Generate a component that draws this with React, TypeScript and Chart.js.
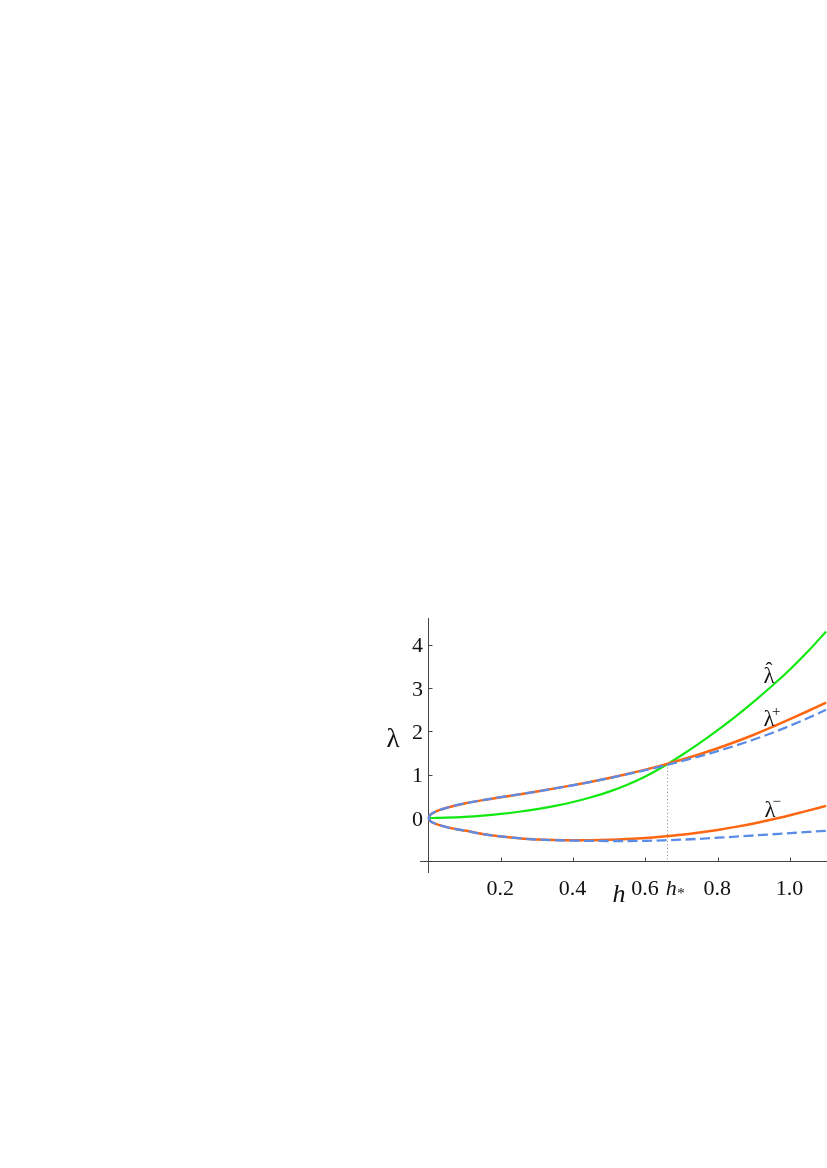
import React, { useEffect, useRef } from "react";
import { Chart, registerables } from "chart.js";

Chart.register(...registerables);

// ---- data ----
const hValues = [0, 0.005, 0.01, 0.02, 0.03, 0.05, 0.075, 0.1, 0.15, 0.2, 0.25, 0.3, 0.35, 0.4, 0.45, 0.5, 0.55, 0.6, 0.65, 0.7, 0.75, 0.8, 0.85, 0.9, 0.95, 1.0, 1.05, 1.1];
const lambdaHat = [0, 0, 0.0003, 0.001, 0.0025, 0.007, 0.015, 0.025, 0.055, 0.095, 0.145, 0.205, 0.28, 0.37, 0.48, 0.61, 0.77, 0.96, 1.19, 1.45, 1.73, 2.03, 2.35, 2.69, 3.05, 3.43, 3.85, 4.31];
const lambdaPlus = [0, 0.075, 0.106, 0.15, 0.183, 0.236, 0.29, 0.336, 0.413, 0.48, 0.545, 0.613, 0.685, 0.76, 0.84, 0.926, 1.018, 1.118, 1.228, 1.346, 1.474, 1.612, 1.762, 1.924, 2.098, 2.282, 2.472, 2.668];
const lambdaPlusApprox = [0, 0.075, 0.106, 0.15, 0.183, 0.236, 0.29, 0.336, 0.413, 0.48, 0.545, 0.612, 0.683, 0.757, 0.836, 0.921, 1.011, 1.106, 1.206, 1.312, 1.425, 1.545, 1.674, 1.813, 1.963, 2.13, 2.31, 2.5];
const lambdaMinus = [0, -0.07, -0.098, -0.137, -0.165, -0.21, -0.255, -0.29, -0.37, -0.425, -0.465, -0.495, -0.51, -0.515, -0.513, -0.503, -0.485, -0.46, -0.425, -0.385, -0.335, -0.275, -0.205, -0.125, -0.035, 0.065, 0.17, 0.28];
const lambdaMinusApprox = [0, -0.07, -0.098, -0.137, -0.165, -0.21, -0.255, -0.29, -0.37, -0.425, -0.466, -0.497, -0.513, -0.522, -0.528, -0.531, -0.531, -0.527, -0.515, -0.5, -0.48, -0.455, -0.43, -0.403, -0.376, -0.349, -0.322, -0.296];

const yTicks = [0, 1, 2, 3, 4];
const yTickLabels = ["0", "1", "2", "3", "4"];
const xTicks = [0.2, 0.4, 0.6, 0.8, 1.0];
const xTickLabels = ["0.2", "0.4", "0.6", "0.8", "1.0"];
const hStar = 0.659;
const lambdaAtHStar = 1.25;

const X_MIN = -0.0235;
const X_MAX = 1.1024;
const Y_MIN = -1.27;
const Y_MAX = 4.62;
const AXIS_Y = -1;

const GREEN = "#10E810";
const ORANGE = "#FF6611";
const BLUE = "#5B8DE8";
const AXIS = "#444444";
const SERIF = '"Liberation Serif", "Times New Roman", serif';

const pts = (ys: number[]) => hValues.map((h, i) => ({ x: h, y: ys[i] }));

const axesPlugin = {
  id: "mathAxes",
  beforeDatasetsDraw(chart: any) {
    const { ctx, chartArea } = chart;
    const xs = chart.scales.x;
    const ys = chart.scales.y;
    const x0 = Math.round(xs.getPixelForValue(0)) + 0.5;
    const yAx = Math.round(ys.getPixelForValue(AXIS_Y)) + 0.5;
    ctx.save();
    ctx.strokeStyle = AXIS;
    ctx.lineWidth = 1;
    ctx.beginPath();
    ctx.moveTo(chartArea.left, yAx);
    ctx.lineTo(chartArea.right, yAx);
    ctx.moveTo(x0, chartArea.top);
    ctx.lineTo(x0, chartArea.bottom);
    yTicks.forEach((v) => {
      const py = Math.round(ys.getPixelForValue(v)) + 0.5;
      ctx.moveTo(x0, py);
      ctx.lineTo(x0 + 4, py);
    });
    xTicks.forEach((v) => {
      const px = Math.round(xs.getPixelForValue(v)) + 0.5;
      ctx.moveTo(px, yAx);
      ctx.lineTo(px, yAx - 4);
    });
    ctx.stroke();
    // dotted guide at h*
    const hx = Math.round(xs.getPixelForValue(hStar)) + 0.5;
    ctx.strokeStyle = "#808080";
    ctx.setLineDash([1, 2.5]);
    ctx.beginPath();
    ctx.moveTo(hx, ys.getPixelForValue(lambdaAtHStar));
    ctx.lineTo(hx, yAx);
    ctx.stroke();
    ctx.restore();
  },
  afterDraw(chart: any) {
    const { ctx } = chart;
    const xs = chart.scales.x;
    const ys = chart.scales.y;
    const x0 = xs.getPixelForValue(0);
    const yAx = ys.getPixelForValue(AXIS_Y);
    ctx.save();
    ctx.fillStyle = "#111111";
    ctx.textBaseline = "alphabetic";
    // y tick labels
    ctx.font = `22px ${SERIF}`;
    ctx.textAlign = "right";
    yTicks.forEach((v, i) => {
      ctx.fillText(yTickLabels[i], x0 - 5.5, ys.getPixelForValue(v) + 7.5);
    });
    // x tick labels
    ctx.textAlign = "center";
    xTicks.forEach((v, i) => {
      ctx.fillText(xTickLabels[i], xs.getPixelForValue(v) - 0.5, yAx + 33.5);
    });
    // h* tick label
    const hx = xs.getPixelForValue(hStar);
    ctx.font = `italic 22px ${SERIF}`;
    ctx.textAlign = "left";
    ctx.fillText("h", hx - 1, yAx + 33.5);
    ctx.font = `15px ${SERIF}`;
    ctx.fillText("*", hx + 10.5, yAx + 36.5);
    // axis labels
    ctx.textAlign = "center";
    ctx.font = `27px ${SERIF}`;
    ctx.fillText("λ", x0 - 35.5, ys.getPixelForValue(2) + 15.5);
    ctx.font = `italic 26px ${SERIF}`;
    ctx.fillText("h", xs.getPixelForValue(0.527), yAx + 41);
    // curve labels
    const lx = xs.getPixelForValue(0.945);
    ctx.textAlign = "left";
    ctx.font = `23px ${SERIF}`;
    ctx.fillText("λ", lx - 6.5, ys.getPixelForValue(3.12));
    ctx.font = `21px ${SERIF}`;
    ctx.fillText("ˆ", lx - 4.5, ys.getPixelForValue(3.12) - 6);
    ctx.font = `23px ${SERIF}`;
    ctx.fillText("λ", lx - 6.5, ys.getPixelForValue(2.11) - 0.5);
    ctx.font = `15px ${SERIF}`;
    ctx.fillText("+", lx + 2, ys.getPixelForValue(2.11) - 11);
    ctx.font = `23px ${SERIF}`;
    ctx.fillText("λ", lx - 5.5, ys.getPixelForValue(0.02));
    ctx.font = `15px ${SERIF}`;
    ctx.fillText("−", lx + 2.5, ys.getPixelForValue(0.02) - 11.5);
    ctx.restore();
  },
};

export default function App() {
  const canvasRef = useRef<HTMLCanvasElement | null>(null);

  useEffect(() => {
    if (!canvasRef.current) return;
    const chart = new Chart(canvasRef.current, {
      type: "line",
      data: {
        datasets: [
          {
            label: "λ⁺ approx",
            data: pts(lambdaPlusApprox),
            borderColor: BLUE,
            borderWidth: 2.3,
            borderDash: [10, 4.5],
            order: 0,
          },
          {
            label: "λ⁻ approx",
            data: pts(lambdaMinusApprox),
            borderColor: BLUE,
            borderWidth: 2.3,
            borderDash: [10, 4.5],
            order: 0,
          },
          {
            label: "λ⁺",
            data: pts(lambdaPlus),
            borderColor: ORANGE,
            borderWidth: 2.5,
            order: 1,
          },
          {
            label: "λ⁻",
            data: pts(lambdaMinus),
            borderColor: ORANGE,
            borderWidth: 2.5,
            order: 1,
          },
          {
            label: "λ̂",
            data: pts(lambdaHat),
            borderColor: GREEN,
            borderWidth: 2.2,
            order: 2,
          },
        ].map((d) => ({
          ...d,
          pointRadius: 0,
          fill: false,
          cubicInterpolationMode: "monotone" as const,
        })),
      },
      options: {
        animation: false,
        responsive: false,
        maintainAspectRatio: false,
        layout: { padding: { left: 420, top: 618, right: 0, bottom: 295 } },
        scales: {
          x: { type: "linear", display: false, min: X_MIN, max: X_MAX },
          y: { type: "linear", display: false, min: Y_MIN, max: Y_MAX },
        },
        plugins: { legend: { display: false }, tooltip: { enabled: false } },
        events: [],
      },
      plugins: [axesPlugin],
    });
    return () => chart.destroy();
  }, []);

  return (
    <div style={{ position: "absolute", left: 0, top: 0, width: 827, height: 1168, background: "#fff" }}>
      <canvas ref={canvasRef} width={827} height={1168} style={{ display: "block" }} />
    </div>
  );
}
